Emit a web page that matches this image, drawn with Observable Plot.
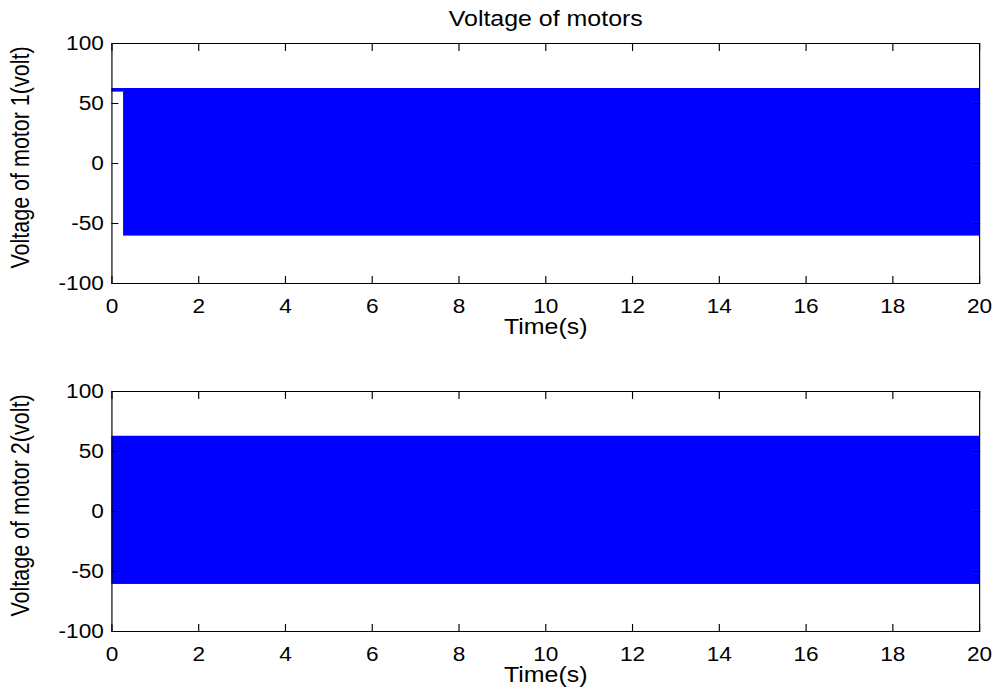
<!DOCTYPE html>
<html><head><meta charset="utf-8">
<script src="https://cdn.jsdelivr.net/npm/d3@7"></script>
<script src="https://cdn.jsdelivr.net/npm/@observablehq/plot@0.6"></script>
<style>html,body{margin:0;padding:0;background:#fff} #chart svg{display:block;max-width:none}</style>
</head><body><div id="chart"></div>
<script>
// ---- text ----
const title = "Voltage of motors";
const xLabel = "Time(s)";
const yLabels = ["Voltage of motor 1(volt)", "Voltage of motor 2(volt)"];
// ---- ticks / domains ----
const xTicks = [0, 2, 4, 6, 8, 10, 12, 14, 16, 18, 20];
const yTicks = [-100, -50, 0, 50, 100];
const xDomain = [0, 20];
const yDomain = [-100, 100];
// ---- envelope of the fast-switching voltage, per segment (time start/end, low/high volt) ----
const m1Start = [0, 0.27];
const m1End = [0.27, 20];
const m1Low = [59.5, -60.5];
const m1High = [62.5, 62.5];
const m2Start = [0];
const m2End = [20];
const m2Low = [-60.8];
const m2High = [62.7];

const STRETCH = 1.16;          // the reference is drawn horizontally stretched
const BASE_W = 860;
const TICK_FS = 19.5, LABEL_FS = 21.5;
const fmt = d => String(d);

function segs(s, e, lo, hi) {
  return s.map((d, i) => ({t0: d, t1: e[i], lo: lo[i], hi: hi[i]}));
}

function panel(data, yLabel, withTitle, height, marginBottom) {
  const marks = [
    Plot.rect(data, {x1: "t0", x2: "t1", y1: "lo", y2: "hi", fill: "#0000ff"}),
    Plot.frame({stroke: "black", strokeWidth: 1}),
    // inward ticks (MATLAB style) on all four sides
    Plot.axisX(xTicks, {anchor: "bottom", tickSize: 7, dy: -7, fill: "none", label: null}),
    Plot.axisX(xTicks, {anchor: "top", tickSize: 7, dy: 7, fill: "none", label: null}),
    Plot.axisY(yTicks, {anchor: "left", tickSize: 6, dx: 6, fill: "none", label: null}),
    Plot.axisY(yTicks, {anchor: "right", tickSize: 6, dx: -6, fill: "none", label: null}),
    // tick labels
    Plot.axisX(xTicks, {anchor: "bottom", tickSize: 0, tickPadding: 16, tickFormat: fmt, fontSize: TICK_FS, fill: "black", label: null}),
    Plot.axisY(yTicks, {anchor: "left", tickSize: 0, tickPadding: 7, tickFormat: fmt, fontSize: TICK_FS, fill: "black", label: null}),
    // axis titles
    Plot.text([xLabel], {text: d => d, frameAnchor: "bottom", lineAnchor: "middle", textAnchor: "middle", dy: 44, fontSize: LABEL_FS, fill: "black"}),
    Plot.text([yLabel], {text: d => d, frameAnchor: "left", lineAnchor: "middle", textAnchor: "middle", rotate: -90, dx: -78, dy: -6, fontSize: LABEL_FS, fill: "black"})
  ];
  if (withTitle) marks.push(Plot.text([title], {text: d => d, frameAnchor: "top", lineAnchor: "middle", textAnchor: "middle", dy: -24, fontSize: LABEL_FS, fill: "black"}));
  const svg = Plot.plot({
    width: BASE_W, height,
    marginLeft: 96, marginRight: 16, marginTop: 43, marginBottom,
    x: {domain: xDomain},
    y: {domain: yDomain},
    style: {fontFamily: "'Liberation Sans', Arial, sans-serif", color: "black", background: "white"},
    marks
  });
  svg.setAttribute("width", Math.round(BASE_W * STRETCH * 1000) / 1000);
  svg.setAttribute("preserveAspectRatio", "none");
  svg.style.maxWidth = "none";
  return svg;
}

const chart = document.getElementById("chart");
chart.appendChild(panel(segs(m1Start, m1End, m1Low, m1High), yLabels[0], true, 348, 65));
chart.appendChild(panel(segs(m2Start, m2End, m2Low, m2High), yLabels[1], false, 349, 66));
</script>
</body></html>
